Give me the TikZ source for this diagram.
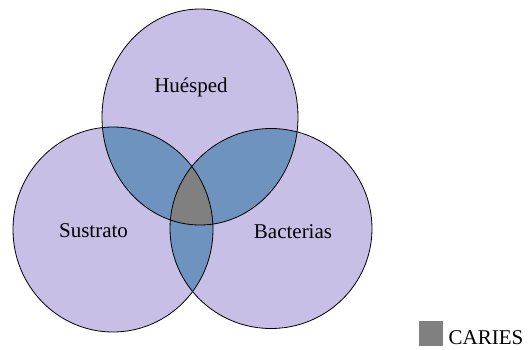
\documentclass[tikz,border=0pt]{standalone}
\usepackage{fontspec}
\setmainfont{Liberation Serif}
\definecolor{lav}{RGB}{199,191,229}
\definecolor{lensblue}{RGB}{109,147,190}
\definecolor{coregray}{RGB}{128,128,128}
\begin{document}
\begin{tikzpicture}[x=1pt,y=-1pt,
  lbl/.style={font=\fontsize{21}{24}\selectfont, anchor=base, inner sep=0pt},
  outl/.style={draw=black, line width=0.8pt}]
\useasboundingbox (0,0) rectangle (528,349);
\def\topE{(200,117) ellipse [x radius=98, y radius=108]}
\def\leftE{(113,229.5) ellipse [x radius=100, y radius=102.5]}
\def\rightE{(271,228.5) ellipse [x radius=101, y radius=100]}
% base fills
\fill[lav] \topE;
\fill[lav] \leftE;
\fill[lav] \rightE;
% pairwise lenses
\begin{scope}\clip \topE; \fill[lensblue] \leftE; \fill[lensblue] \rightE;\end{scope}
\begin{scope}\clip \leftE; \fill[lensblue] \rightE;\end{scope}
% triple
\begin{scope}\clip \topE; \clip \leftE; \fill[coregray] \rightE;\end{scope}
% outlines
\draw[outl] \topE;
\draw[outl] \leftE;
\draw[outl] \rightE;
% labels
\node[lbl] (hue) at (191,92.5) {Huésped};
\node[lbl] (sus) at (93.5,237) {Sustrato};
\node[lbl] (bac) at (293,238) {Bacterias};
% legend
\node[fill=coregray, minimum width=24pt, minimum height=25pt, inner sep=0pt] (sq) at (431.3,333.5) {};
\node[lbl, anchor=base west] (car) at (448.5,344) {CARIES};
\end{tikzpicture}
\end{document}
